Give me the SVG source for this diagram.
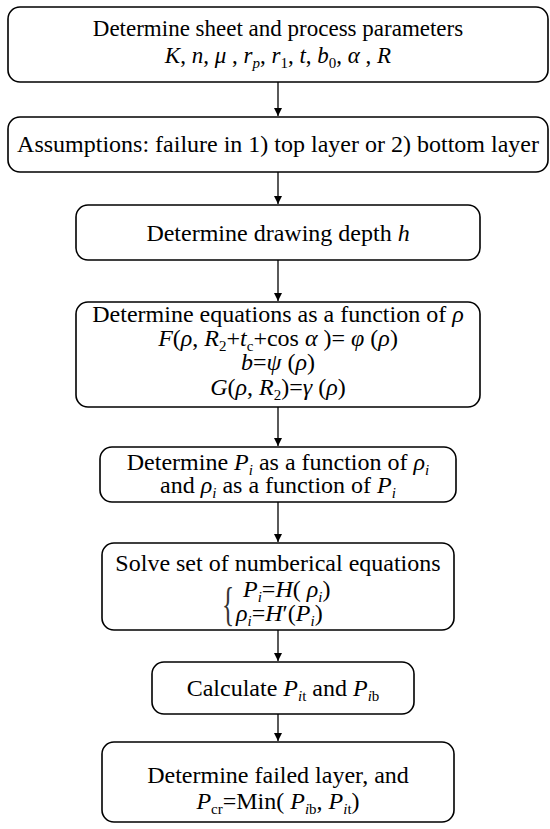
<svg xmlns="http://www.w3.org/2000/svg" width="550" height="829" viewBox="0 0 550 829">
<style>
.box{fill:#fff;stroke:#000;stroke-width:1.6}
.t{font-family:"Liberation Serif","Times New Roman",serif;font-size:24px;fill:#000;text-anchor:middle}
.st{text-anchor:start}
.i{font-style:italic}
.s{font-size:15px}
.con{stroke:#000;stroke-width:1.3;fill:none}
</style>
<defs>
<marker id="ah" viewBox="0 0 10 10" refX="10" refY="5" markerWidth="8" markerHeight="9" markerUnits="userSpaceOnUse" orient="auto">
<path d="M0,0 L10,5 L0,10 Z" fill="#000"/>
</marker>
</defs>
<rect width="550" height="829" fill="#fff"/>
<g id="connectors">
<line class="con" x1="278" y1="82" x2="278" y2="116" marker-end="url(#ah)"/>
<line class="con" x1="278" y1="172" x2="278" y2="204" marker-end="url(#ah)"/>
<line class="con" x1="278" y1="260" x2="278" y2="301" marker-end="url(#ah)"/>
<line class="con" x1="278" y1="407" x2="278" y2="446" marker-end="url(#ah)"/>
<line class="con" x1="278" y1="502" x2="278" y2="542" marker-end="url(#ah)"/>
<line class="con" x1="278" y1="630" x2="278" y2="661" marker-end="url(#ah)"/>
<line class="con" x1="278" y1="714" x2="278" y2="741" marker-end="url(#ah)"/>
</g>
<g id="n1">
<rect class="box" x="8" y="7" width="540" height="75" rx="12"/>
<text class="t" x="278" y="36" style="font-size:23px">Determine sheet and process parameters</text>
<text class="t" x="278" y="63" style="font-size:23px"><tspan class="i">K</tspan>, <tspan class="i">n</tspan>, <tspan class="i">μ</tspan> , <tspan class="i">r</tspan><tspan class="s i" dy="5">p</tspan><tspan dy="-5">, </tspan><tspan class="i">r</tspan><tspan class="s" dy="5">1</tspan><tspan dy="-5">, </tspan><tspan class="i">t</tspan>, <tspan class="i">b</tspan><tspan class="s" dy="5">0</tspan><tspan dy="-5">, </tspan><tspan class="i">α</tspan> , <tspan class="i">R</tspan></text>
</g>
<g id="n2">
<rect class="box" x="8" y="117" width="540" height="55" rx="12"/>
<text class="t" x="278" y="152">Assumptions: failure in 1) top layer or 2) bottom layer</text>
</g>
<g id="n3">
<rect class="box" x="76" y="205" width="404" height="55" rx="12"/>
<text class="t" x="278" y="241">Determine drawing depth <tspan class="i">h</tspan></text>
</g>
<g id="n4">
<rect class="box" x="76" y="302" width="404" height="105" rx="12"/>
<text class="t" x="278" y="322">Determine equations as a function of <tspan class="i">ρ</tspan></text>
<text class="t" x="278" y="346"><tspan class="i">F</tspan>(<tspan class="i">ρ</tspan>, <tspan class="i">R</tspan><tspan class="s" dy="5">2</tspan><tspan dy="-5">+</tspan><tspan class="i">t</tspan><tspan class="s" dy="5">c</tspan><tspan dy="-5">+cos </tspan><tspan class="i">α</tspan> )= <tspan class="i">φ</tspan> (<tspan class="i">ρ</tspan>)</text>
<text class="t" x="278" y="370"><tspan class="i">b</tspan>=<tspan class="i">ψ</tspan> (<tspan class="i">ρ</tspan>)</text>
<text class="t" x="278" y="395"><tspan class="i">G</tspan>(<tspan class="i">ρ</tspan>, <tspan class="i">R</tspan><tspan class="s" dy="5">2</tspan><tspan dy="-5">)=</tspan><tspan class="i">γ</tspan> (<tspan class="i">ρ</tspan>)</text>
</g>
<g id="n5">
<rect class="box" x="100" y="447" width="356" height="55" rx="12"/>
<text class="t" x="278" y="470">Determine <tspan class="i">P</tspan><tspan class="s i" dy="5">i</tspan><tspan dy="-5"> as a function of </tspan><tspan class="i">ρ</tspan><tspan class="s i" dy="5">i</tspan></text>
<text class="t" x="278" y="493">and <tspan class="i">ρ</tspan><tspan class="s i" dy="5">i</tspan><tspan dy="-5"> as a function of </tspan><tspan class="i">P</tspan><tspan class="s i" dy="5">i</tspan></text>
</g>
<g id="n6">
<rect class="box" x="102" y="543" width="352" height="87" rx="12"/>
<text class="t" x="278" y="571">Solve set of numberical equations</text>
<text class="t st" x="0" y="620" style="font-size:46px;fill:#333" transform="translate(222,0) scale(0.55,1)">{</text>
<text class="t st" x="243" y="597"><tspan class="i">P</tspan><tspan class="s i" dy="5">i</tspan><tspan dy="-5">=</tspan><tspan class="i">H</tspan>( <tspan class="i">ρ</tspan><tspan class="s i" dy="5">i</tspan><tspan dy="-5">)</tspan></text>
<text class="t st" x="236" y="621"><tspan class="i">ρ</tspan><tspan class="s i" dy="5">i</tspan><tspan dy="-5">=</tspan><tspan class="i">H</tspan>′(<tspan class="i">P</tspan><tspan class="s i" dy="5">i</tspan><tspan dy="-5">)</tspan></text>
</g>
<g id="n7">
<rect class="box" x="152" y="662" width="262" height="52" rx="12"/>
<text class="t" x="283" y="696">Calculate <tspan class="i">P</tspan><tspan class="s" dy="5"><tspan class="i">i</tspan>t</tspan><tspan dy="-5"> and </tspan><tspan class="i">P</tspan><tspan class="s" dy="5"><tspan class="i">i</tspan>b</tspan></text>
</g>
<g id="n8">
<rect class="box" x="102" y="742" width="352" height="80" rx="12"/>
<text class="t" x="278" y="783">Determine failed layer, and</text>
<text class="t" x="278" y="809"><tspan class="i">P</tspan><tspan class="s" dy="5">cr</tspan><tspan dy="-5">=Min( </tspan><tspan class="i">P</tspan><tspan class="s" dy="5"><tspan class="i">i</tspan>b</tspan><tspan dy="-5">, </tspan><tspan class="i">P</tspan><tspan class="s" dy="5"><tspan class="i">i</tspan>t</tspan><tspan dy="-5">)</tspan></text>
</g>
</svg>
